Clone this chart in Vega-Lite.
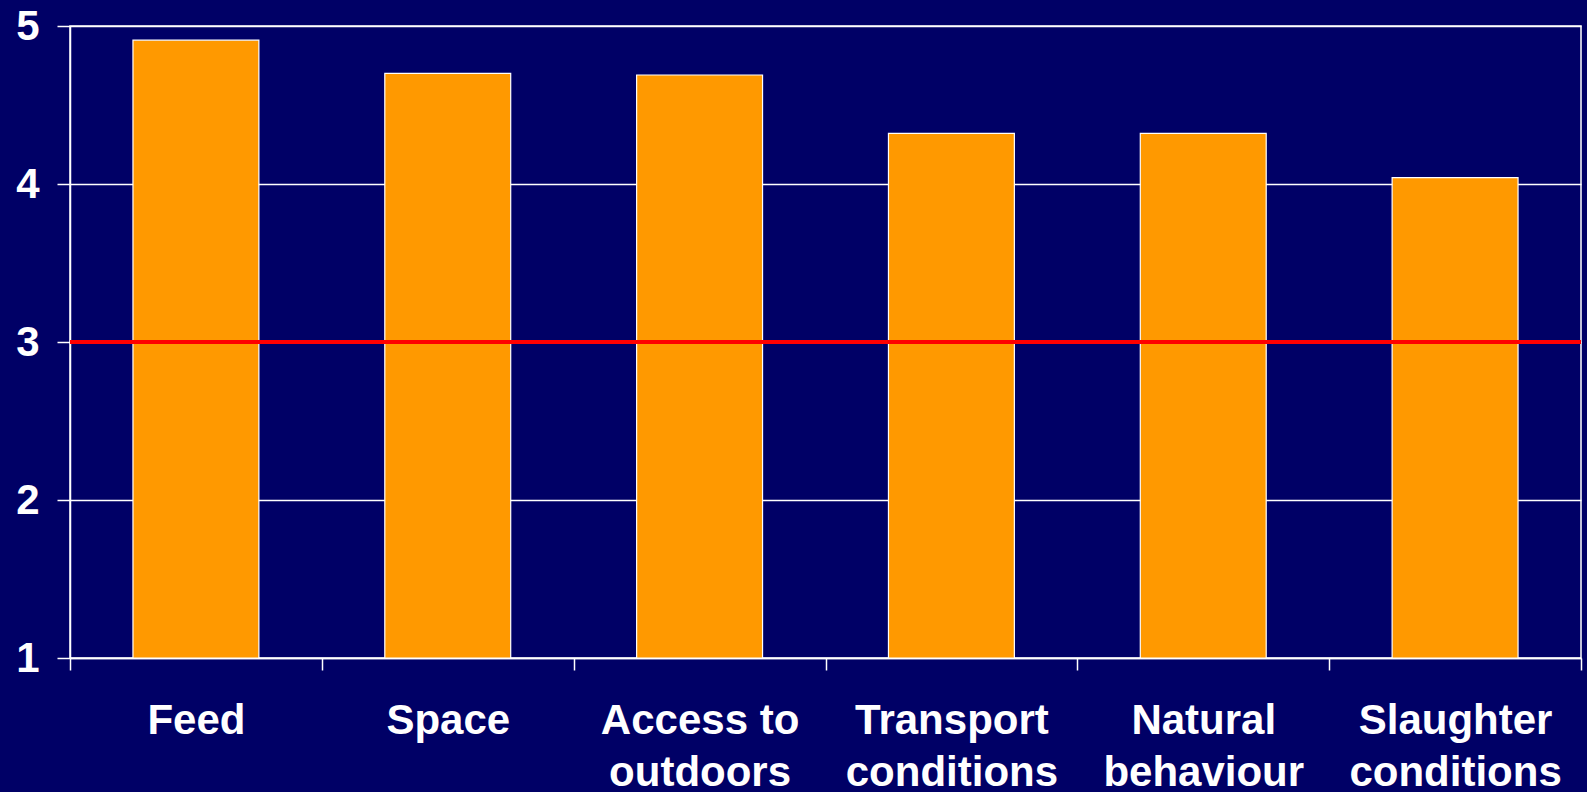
{
  "$schema": "https://vega.github.io/schema/vega-lite/v6.json",
  "autosize": {"type": "none"},
  "width": 1511,
  "height": 632,
  "padding": {"left": 70, "top": 26, "right": 6, "bottom": 134},
  "background": "#000066",
  "config": {
    "view": {"stroke": "#FFFFFF", "strokeWidth": 1.5, "fill": "#000066"},
    "font": "Liberation Sans"
  },
  "data": {
    "values": [
      {"category": "Feed", "score": 4.91},
      {"category": "Space", "score": 4.70},
      {"category": "Access to outdoors", "score": 4.69},
      {"category": "Transport conditions", "score": 4.32},
      {"category": "Natural behaviour", "score": 4.32},
      {"category": "Slaughter conditions", "score": 4.04}
    ]
  },
  "layer": [
    {
      "mark": {"type": "bar", "color": "#FF9900", "stroke": "#FFFFFF", "strokeWidth": 1.2, "width": {"band": 0.5}},
      "encoding": {
        "x": {
          "field": "category",
          "type": "nominal",
          "sort": null,
          "scale": {"paddingInner": 0, "paddingOuter": 0},
          "axis": {
            "title": null,
            "labelAngle": 0,
            "labelExpr": "datum.value == null ? '' : (datum.value == 'Access to outdoors' ? ['Access to', 'outdoors'] : (indexof(datum.value, ' ') > 0 ? split(datum.value, ' ') : datum.value))",
            "labelFont": "Liberation Sans",
            "labelFontWeight": "bold",
            "labelFontSize": 42,
            "labelColor": "#FFFFFF",
            "labelLineHeight": 52,
            "labelPadding": 30,
            "labelBaseline": "top",
            "labelLimit": 600,
            "labelOverlap": false,
            "tickBand": "extent",
            "tickColor": "#FFFFFF",
            "tickSize": 12,
            "tickWidth": 1.5,
            "domainColor": "#FFFFFF",
            "domainWidth": 1.5,
            "grid": false
          }
        },
        "y": {
          "field": "score",
          "type": "quantitative",
          "scale": {"domain": [1, 5], "nice": false, "zero": false},
          "axis": {
            "title": null,
            "values": [1, 2, 3, 4, 5],
            "format": "d",
            "labelFont": "Liberation Sans",
            "labelFontWeight": "bold",
            "labelFontSize": 42,
            "labelColor": "#FFFFFF",
            "labelPadding": 18,
            "tickColor": "#FFFFFF",
            "tickSize": 13,
            "tickWidth": 1.5,
            "domainColor": "#FFFFFF",
            "domainWidth": 1.5,
            "grid": true,
            "gridColor": "#FFFFFF",
            "gridWidth": 1.5,
            "gridOpacity": 1
          }
        },
        "y2": {"datum": 1}
      }
    },
    {
      "data": {"values": [{"ref": 3}]},
      "mark": {"type": "rule", "color": "#FF0000", "strokeWidth": 4},
      "encoding": {
        "y": {"field": "ref", "type": "quantitative"}
      }
    }
  ]
}
